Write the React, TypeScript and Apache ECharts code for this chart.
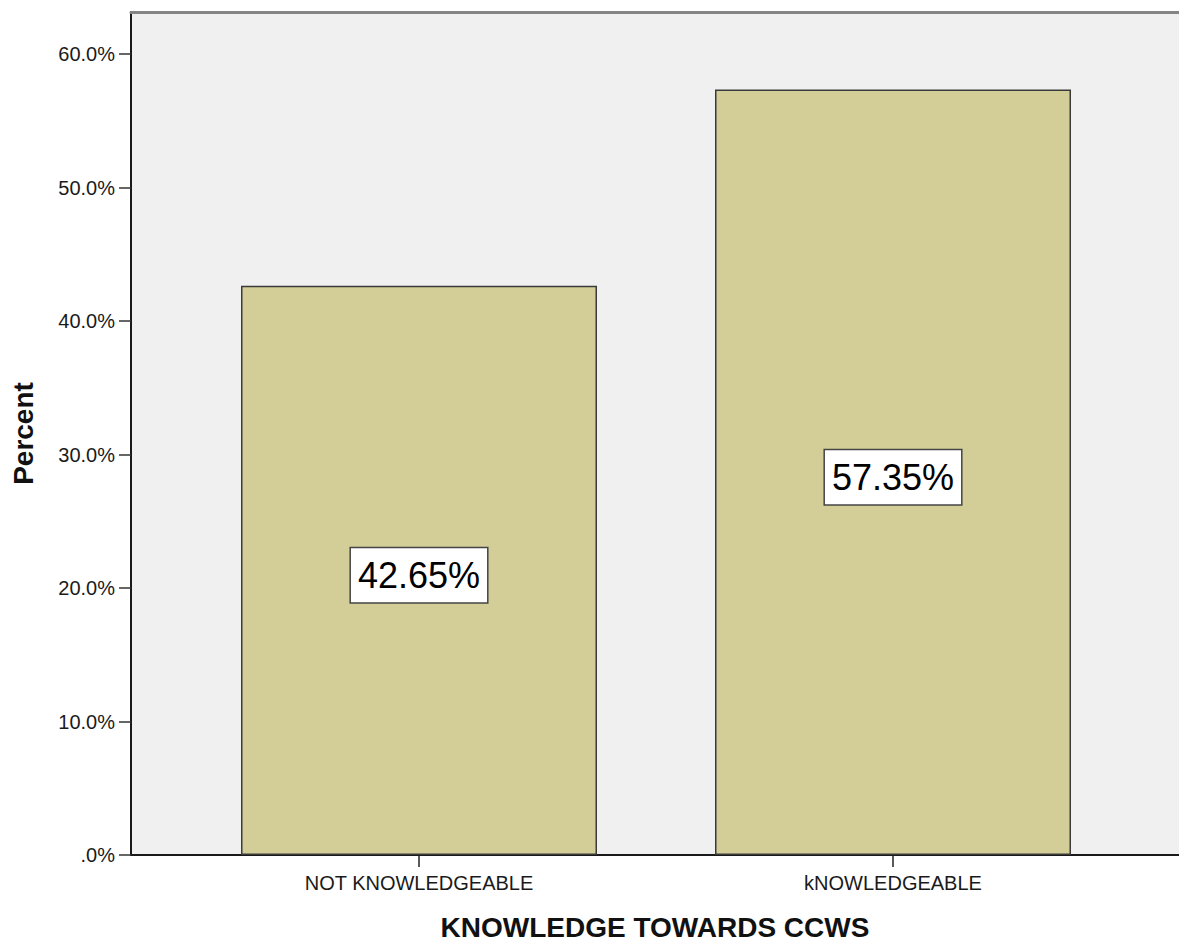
import React, { useEffect, useRef } from "react";
import * as echarts from "echarts";

const categories = ["NOT KNOWLEDGEABLE", "kNOWLEDGEABLE"];
const percentValues = [42.65, 57.35];
const yTickValues = [0, 10, 20, 30, 40, 50, 60];
const xTitle = "KNOWLEDGE TOWARDS CCWS";
const yTitle = "Percent";

const FONT = "'Liberation Sans', Arial, Helvetica, sans-serif";
const Y_MAX = 63.15;

export default function App() {
  const ref = useRef<HTMLDivElement>(null);
  useEffect(() => {
    if (!ref.current) return;
    const chart = echarts.init(ref.current, undefined, { renderer: "svg" });
    chart.setOption({
      animation: false,
      textStyle: { fontFamily: FONT },
      grid: [
        {
          left: 131,
          top: 12,
          right: 0,
          bottom: 86,
          show: true,
          backgroundColor: "#f0f0f0",
          borderWidth: 0,
          containLabel: false,
          outerBoundsMode: "none",
        },
        {
          left: 182,
          top: 12,
          right: 49,
          bottom: 86,
          containLabel: false,
          outerBoundsMode: "none",
        },
      ],
      xAxis: [
        {
          gridIndex: 0,
          type: "value",
          min: 0,
          max: 1,
          position: "bottom",
          axisLine: { show: true, onZero: false, lineStyle: { color: "#1a1a1a", width: 2 } },
          axisTick: { show: false },
          axisLabel: { show: false },
          splitLine: { show: false },
          name: xTitle,
          nameLocation: "middle",
          nameGap: 58,
          nameTextStyle: { fontFamily: FONT, fontSize: 28, fontWeight: "bold", color: "#111" },
        },
        {
          gridIndex: 0,
          type: "value",
          min: 0,
          max: 1,
          position: "top",
          axisLine: { show: true, onZero: false, lineStyle: { color: "#858585", width: 3 } },
          axisTick: { show: false },
          axisLabel: { show: false },
          splitLine: { show: false },
        },
        {
          gridIndex: 1,
          type: "category",
          data: categories,
          boundaryGap: true,
          axisLine: { show: false },
          axisTick: {
            show: true,
            alignWithLabel: true,
            length: 12,
            lineStyle: { color: "#222", width: 1.5 },
          },
          axisLabel: { fontFamily: FONT, fontSize: 20, color: "#1a1a1a", margin: 18 },
          splitLine: { show: false },
        },
      ],
      yAxis: [
        {
          gridIndex: 0,
          type: "value",
          min: 0,
          max: Y_MAX,
          axisLine: { show: true, onZero: false, lineStyle: { color: "#1a1a1a", width: 2 } },
          axisTick: {
            show: true,
            length: 12,
            customValues: yTickValues,
            lineStyle: { color: "#333", width: 1.5 },
          },
          axisLabel: {
            customValues: yTickValues,
            fontFamily: FONT,
            fontSize: 20,
            color: "#1a1a1a",
            margin: 16,
            padding: [7, 0, 0, 0],
            formatter: (v: number) => (v === 0 ? ".0%" : v.toFixed(1) + "%"),
          },
          splitLine: { show: false },
          name: yTitle,
          nameLocation: "middle",
          nameGap: 94,
          nameRotate: 90,
          nameTextStyle: { fontFamily: FONT, fontSize: 28, fontWeight: "bold", color: "#111" },
        },
        {
          gridIndex: 1,
          type: "value",
          min: 0,
          max: Y_MAX,
          show: false,
          splitLine: { show: false },
        },
      ],
      series: [
        {
          type: "bar",
          xAxisIndex: 2,
          yAxisIndex: 1,
          data: percentValues,
          barWidth: 356,
          itemStyle: {
            color: "#d3ce97",
            borderColor: "#3a3a3a",
            borderWidth: 1.5,
          },
          label: {
            show: true,
            position: "inside",
            offset: [0, 5],
            formatter: (p: any) => p.value.toFixed(2) + "%",
            fontFamily: FONT,
            fontSize: 36,
            lineHeight: 42,
            color: "#000",
            backgroundColor: "#ffffff",
            borderColor: "#444",
            borderWidth: 1.5,
            padding: [6, 7, 6, 7],
          },
        },
      ],
    });
    return () => chart.dispose();
  }, []);
  return (
    <div
      ref={ref}
      style={{ position: "fixed", left: 0, top: 0, width: 1179, height: 941, background: "#fff" }}
    />
  );
}
